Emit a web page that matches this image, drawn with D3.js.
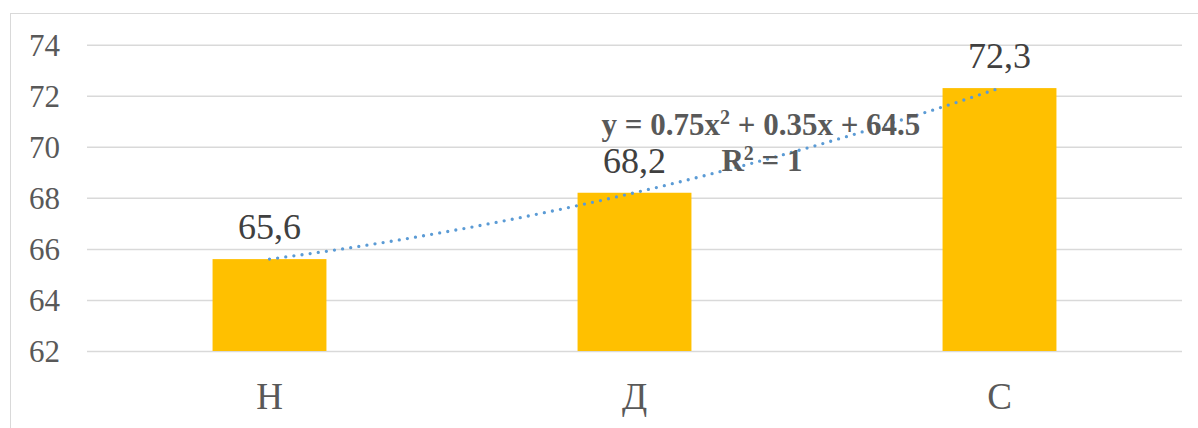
<!DOCTYPE html>
<html><head><meta charset="utf-8">
<script src="https://cdn.jsdelivr.net/npm/d3@7"></script>
<style>body{margin:0;background:#fff}svg{display:block}</style>
</head><body>
<script>
const categories = ["Н", "Д", "С"];
const values = [65.6, 68.2, 72.3];
const valueLabels = ["65,6", "68,2", "72,3"];
const yTicks = [62, 64, 66, 68, 70, 72, 74];
const trendCoef = [0.75, 0.35, 64.5]; // y = a x^2 + b x + c
const trendLines = ["y = 0.75x", " + 0.35x + 64.5", "R", " = 1"];

const W = 1198, H = 428;
const svg = d3.select("body").append("svg").attr("width", W).attr("height", H);
const font = "'Liberation Serif','Times New Roman',serif";

// chart border
svg.append("rect").attr("x", 10.5).attr("y", 13.5).attr("width", 1200).attr("height", 500)
  .attr("fill", "none").attr("stroke", "#d9d9d9").attr("stroke-width", 1);

const x = d3.scaleBand().domain(categories).range([87, 1182]).paddingInner(0.688).paddingOuter(0.344);
const y = d3.scaleLinear().domain([62, 74]).range([351, 44.7]);

// gridlines
const grid = svg.append("g").call(d3.axisLeft(y).tickValues(yTicks).tickSize(-(1182 - 87)).tickFormat(""))
  .attr("transform", "translate(87,0)");
grid.select(".domain").remove();
grid.selectAll("line").attr("stroke", "#d9d9d9").attr("stroke-width", 1.5);

// y tick labels
const yAxis = svg.append("g").attr("transform", "translate(60,0)")
  .call(d3.axisLeft(y).tickValues(yTicks).tickSize(0).tickPadding(0));
yAxis.select(".domain").remove();
yAxis.selectAll("text").attr("font-family", font).attr("font-size", 31).attr("fill", "#595959").attr("dy", "0.34em");

// bars
svg.append("g").selectAll("rect").data(values).join("rect")
  .attr("x", (d, i) => x(categories[i]))
  .attr("y", d => y(d))
  .attr("width", x.bandwidth())
  .attr("height", d => y(62) - y(d))
  .attr("fill", "#FFC000");

// x labels
const xAxis = svg.append("g").attr("transform", "translate(0,351)")
  .call(d3.axisBottom(x).tickSize(0).tickPadding(0));
xAxis.select(".domain").remove();
xAxis.selectAll("text").attr("font-family", font).attr("font-size", 37).attr("fill", "#595959")
  .attr("dy", null).attr("y", 58);

// trendline
const t = d3.scaleLinear().domain([1, 3]).range([x(categories[0]) + x.bandwidth() / 2, x(categories[2]) + x.bandwidth() / 2]);
const pts = d3.range(1, 3.0001, 0.02).map(v => [t(v), y(trendCoef[0] * v * v + trendCoef[1] * v + trendCoef[2])]);
svg.append("path").attr("d", d3.line()(pts)).attr("fill", "none")
  .attr("stroke", "#5B9BD5").attr("stroke-width", 3.3).attr("stroke-linecap", "round")
  .attr("stroke-dasharray", "0 8.2");

// data labels
svg.append("g").selectAll("text").data(values).join("text")
  .attr("x", (d, i) => x(categories[i]) + x.bandwidth() / 2)
  .attr("y", d => y(d) - 20)
  .attr("text-anchor", "middle").attr("font-family", font).attr("font-size", 36).attr("fill", "#404040")
  .text((d, i) => valueLabels[i]);

// equation
const eq = svg.append("text").attr("x", 761).attr("y", 135).attr("text-anchor", "middle")
  .attr("font-family", font).attr("font-size", 31).attr("font-weight", "bold").attr("fill", "#595959");
eq.append("tspan").text(trendLines[0]);
eq.append("tspan").attr("font-size", 20).attr("dy", -11).text("2");
eq.append("tspan").attr("dy", 11).text(trendLines[1]);
const r2 = svg.append("text").attr("x", 762).attr("y", 171).attr("text-anchor", "middle")
  .attr("font-family", font).attr("font-size", 31).attr("font-weight", "bold").attr("fill", "#595959");
r2.append("tspan").text(trendLines[2]);
r2.append("tspan").attr("font-size", 20).attr("dy", -11).text("2");
r2.append("tspan").attr("dy", 11).text(trendLines[3]);
</script>
</body></html>
